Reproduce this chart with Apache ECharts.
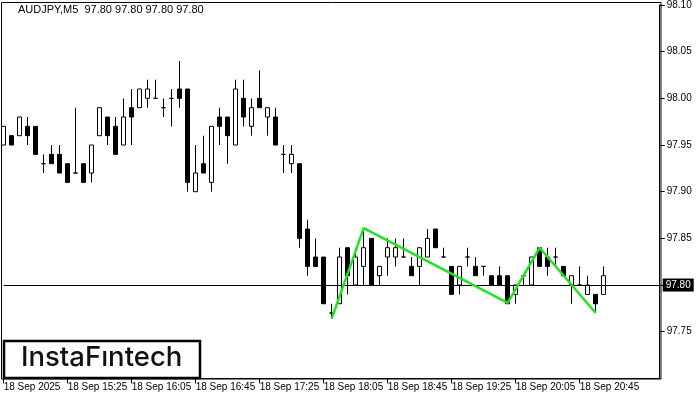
<!DOCTYPE html>
<html>
<head>
<meta charset="utf-8">
<script src="https://cdn.jsdelivr.net/npm/echarts@6/dist/echarts.min.js"></script>
<style>html,body{margin:0;padding:0;background:#fff}#c{width:700px;height:400px}</style>
</head>
<body>
<div id="c"></div>
<script>
// Candle data (AUDJPY M5, 18 Sep 2025, from 14:45)
const opens  = [97.95,97.96,97.96,97.97,97.97,97.93,97.94,97.94,97.93,97.92,97.93,97.92,97.96,97.98,97.97,97.95,97.99,97.99,98.00,98.00,97.99,98.00,98.01,98.01,97.90,97.93,97.91,97.98,97.98,97.95,98.00,97.97,98.00,97.98,97.98,97.94,97.93,97.93,97.86,97.83,97.83,97.77,97.78,97.84,97.80,97.82,97.85,97.81,97.83,97.83,97.83,97.82,97.82,97.83,97.86,97.83,97.82,97.80,97.83,97.82,97.82,97.81,97.81,97.81,97.79,97.81,97.80,97.84,97.83,97.83,97.82,97.80,97.80,97.79,97.79,97.79];
const closes = [97.97,97.95,97.98,97.96,97.94,97.93,97.93,97.92,97.91,97.92,97.91,97.95,97.99,97.96,97.94,97.98,97.98,98.01,98.01,98.00,97.99,98.00,98.00,97.91,97.92,97.92,97.97,97.97,97.96,98.01,97.98,97.99,97.99,97.99,97.95,97.94,97.94,97.85,97.82,97.82,97.78,97.77,97.83,97.81,97.83,97.84,97.80,97.82,97.84,97.84,97.83,97.81,97.84,97.85,97.84,97.83,97.79,97.82,97.83,97.81,97.82,97.80,97.80,97.78,97.80,97.81,97.83,97.82,97.82,97.83,97.81,97.81,97.80,97.80,97.78,97.81];
const lows   = [97.95,97.95,97.96,97.95,97.94,97.92,97.93,97.92,97.91,97.92,97.91,97.91,97.96,97.95,97.94,97.95,97.95,97.99,97.99,98.00,97.98,97.97,97.99,97.90,97.90,97.92,97.90,97.95,97.93,97.95,97.97,97.96,97.99,97.96,97.95,97.92,97.92,97.84,97.81,97.82,97.78,97.764,97.78,97.79,97.80,97.80,97.80,97.80,97.81,97.82,97.83,97.81,97.80,97.83,97.84,97.83,97.79,97.79,97.82,97.81,97.81,97.80,97.80,97.78,97.78,97.80,97.80,97.82,97.81,97.82,97.81,97.78,97.80,97.79,97.77,97.79];
const highs  = [97.97,97.96,97.98,97.98,97.97,97.94,97.95,97.95,97.93,97.99,97.93,97.95,97.99,97.98,97.98,98.00,98.01,98.01,98.02,98.02,98.00,98.01,98.04,98.01,97.95,97.96,97.97,97.99,97.98,98.02,98.02,98.00,98.03,97.99,97.99,97.95,97.95,97.93,97.87,97.85,97.83,97.78,97.84,97.84,97.84,97.86,97.85,97.82,97.85,97.85,97.85,97.83,97.84,97.86,97.86,97.84,97.82,97.82,97.84,97.83,97.82,97.81,97.82,97.81,97.80,97.81,97.83,97.84,97.84,97.84,97.82,97.81,97.82,97.81,97.79,97.82];
// Pattern line (category index, price)
const patternIdx = [41, 45, 63, 67, 74];
const patternVal = [97.764, 97.861, 97.781, 97.840, 97.770];
const lastPrice = 97.80;
const startMinutes = 14 * 60 + 45;
const extraSlots = 7;

const nCat = opens.length + extraSlots;
const categories = [];
for (let i = 0; i < nCat; i++) {
  const m = startMinutes + i * 5;
  const hh = String(Math.floor(m / 60)).padStart(2, '0');
  const mm = String(m % 60).padStart(2, '0');
  categories.push(i === 0 ? '18 Sep 2025' : '18 Sep ' + hh + ':' + mm);
}
const candles = opens.map((o, i) => [o, closes[i], lows[i], highs[i]]);
const patternLine = patternIdx.map((ix, k) => [categories[ix], patternVal[k]]);
const showTick = (i) => i % 8 === 0 && i < opens.length;

const font = 'Liberation Sans, Arial, sans-serif';
const chart = echarts.init(document.getElementById('c'), null, {renderer: 'canvas'});
chart.setOption({
  animation: false,
  backgroundColor: '#fff',
  grid: {left: 3.7, right: 40.3, top: 4.8, height: 373.6, containLabel: false},
  xAxis: {
    type: 'category', data: categories, boundaryGap: false,
    axisLine: {show: true, lineStyle: {color: '#000', width: 1}},
    axisTick: {show: true, length: 5, lineStyle: {color: '#000'}, interval: showTick},
    axisLabel: {interval: showTick, align: 'left', margin: 4, color: '#000', fontSize: 10, fontFamily: font},
    splitLine: {show: false}
  },
  yAxis: {
    type: 'value', position: 'right', min: 97.70, max: 98.10, interval: 0.05, scale: true,
    axisLine: {show: true, lineStyle: {color: '#000'}},
    axisTick: {show: true, length: 5, lineStyle: {color: '#000'}},
    axisLabel: {showMinLabel: false, margin: 7, color: '#000', fontSize: 10, fontFamily: font,
      formatter: (v) => Math.abs(v - lastPrice) < 1e-6 ? '' : v.toFixed(2)},
    splitLine: {show: false}
  },
  series: [
    {
      type: 'candlestick', data: candles, barWidth: 5, clip: false,
      itemStyle: {color: '#fff', color0: '#000', borderColor: '#000', borderColor0: '#000', borderWidth: 1},
      markLine: {
        symbol: 'none', silent: true, animation: false,
        lineStyle: {color: '#000', width: 1, type: 'solid'},
        label: {show: true, position: 'end', distance: 3, formatter: lastPrice.toFixed(2),
          backgroundColor: '#000', color: '#fff', padding: [2, 3, 1, 3], fontSize: 10, fontFamily: font},
        data: [{yAxis: lastPrice}]
      }
    },
    {
      type: 'line', data: patternLine, symbol: 'none', clip: false,
      lineStyle: {color: '#22e322', width: 2.5}, z: 5
    }
  ],
  graphic: [
    {type: 'rect', shape: {x: 1.5, y: 2.5, width: 659.5, height: 376.5}, style: {fill: 'none', stroke: '#000', lineWidth: 1}, silent: true, z: 100},
    {type: 'text', left: 18, top: 4, style: {text: 'AUDJPY,M5  97.80 97.80 97.80 97.80', fontSize: 11, fontFamily: font, fill: '#000'}, z: 101},
    {type: 'rect', shape: {x: 4, y: 341, width: 196, height: 37}, style: {fill: '#fff', stroke: '#000', lineWidth: 2.5}, z: 102},
    {type: 'text', left: 21, top: 344, style: {text: 'InstaF\u0131ntech', fontSize: 27.5, fontWeight: 500, fontFamily: 'Inter, Lato, sans-serif', fill: '#111'}, z: 103}
  ]
});
</script>
</body>
</html>
